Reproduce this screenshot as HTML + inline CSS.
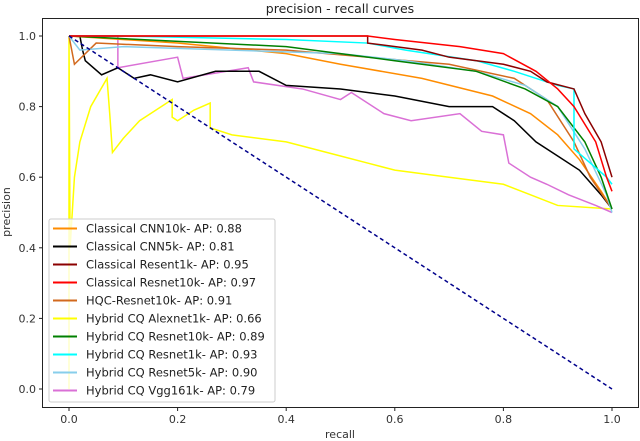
<!DOCTYPE html>
<html><head><meta charset="utf-8"><style>
body{margin:0;background:#fff;width:640px;height:441px;overflow:hidden}
svg{display:block;font-family:"DejaVu Sans","Liberation Sans",sans-serif}
</style></head><body>
<svg id="chart" width="640" height="441">
<text x="340" y="13" font-size="12.5" text-anchor="middle" fill="#222">precision - recall curves</text>
<rect x="42.5" y="18.5" width="596" height="389" fill="none" stroke="#222" stroke-width="1"/>
<g id="ticks"></g>
<g id="series"></g>
<text x="340" y="438" font-size="11" text-anchor="middle" fill="#333">recall</text>
<text transform="translate(10,212) rotate(-90)" font-size="11" text-anchor="middle" fill="#333">precision</text>
<g id="legend"></g>
</svg>
<script>
const xTicks=[0,0.2,0.4,0.6,0.8,1.0];
const yTicks=[0,0.2,0.4,0.6,0.8,1.0];
const names=["Classical CNN10k- AP: 0.88","Classical CNN5k- AP: 0.81","Classical Resent1k- AP: 0.95","Classical Resnet10k- AP: 0.97","HQC-Resnet10k- AP: 0.91","Hybrid CQ Alexnet1k- AP: 0.66","Hybrid CQ Resnet10k- AP: 0.89","Hybrid CQ Resnet1k- AP: 0.93","Hybrid CQ Resnet5k- AP: 0.90","Hybrid CQ Vgg161k- AP: 0.79"];
const colors=["#ff8c00","#000000","#8b0000","#ff0000","#d2691e","#ffff00","#008000","#00ffff","#87ceeb","#da70d6"];
const rCNN10=[0,0.2,0.4,0.5,0.65,0.78,0.85,0.9,0.94,0.98,1];
const pCNN10=[1,0.98,0.95,0.92,0.88,0.83,0.78,0.72,0.65,0.56,0.51];
const rCNN5=[0.02,0.025,0.03,0.06,0.09,0.12,0.15,0.2,0.27,0.35,0.4,0.5,0.6,0.7,0.78,0.82,0.86,0.9,0.94,0.98,1];
const pCNN5=[1,0.96,0.93,0.89,0.91,0.88,0.89,0.87,0.9,0.9,0.86,0.85,0.83,0.8,0.8,0.76,0.7,0.66,0.62,0.55,0.51];
const rRes1=[0,0.55,0.55,0.65,0.7,0.8,0.85,0.88,0.93,0.95,0.98,1];
const pRes1=[1,1,0.98,0.96,0.94,0.92,0.9,0.87,0.85,0.78,0.7,0.6];
const rRes10=[0,0.55,0.6,0.72,0.8,0.86,0.9,0.93,0.97,0.99,1];
const pRes10=[1,1,0.99,0.97,0.95,0.9,0.85,0.8,0.7,0.6,0.56];
const rHQC=[0,0.01,0.05,0.2,0.4,0.55,0.7,0.82,0.88,0.93,0.96,1];
const pHQC=[1,0.92,0.98,0.97,0.96,0.94,0.92,0.88,0.82,0.7,0.6,0.51];
const rAlex=[0,0,0.002,0.01,0.02,0.04,0.07,0.075,0.08,0.1,0.13,0.16,0.19,0.19,0.2,0.23,0.26,0.26,0.3,0.4,0.5,0.55,0.6,0.7,0.8,0.85,0.9,1];
const pAlex=[0,1,0.4,0.6,0.7,0.8,0.88,0.78,0.67,0.71,0.76,0.79,0.82,0.77,0.76,0.79,0.81,0.74,0.72,0.7,0.66,0.64,0.62,0.6,0.58,0.55,0.52,0.51];
const rHR10=[0,0.4,0.6,0.75,0.84,0.9,0.95,0.98,1];
const pHR10=[1,0.97,0.93,0.9,0.85,0.8,0.7,0.6,0.51];
const rHR1=[0,0.1,0.4,0.55,0.62,0.75,0.82,0.9,0.93,0.93,0.99,1];
const pHR1=[1,1,0.99,0.98,0.96,0.93,0.9,0.86,0.85,0.68,0.6,0.58];
const rHR5=[0,0.02,0.1,0.3,0.5,0.62,0.75,0.84,0.9,0.95,0.99,1];
const pHR5=[1,0.96,0.97,0.96,0.95,0.93,0.9,0.86,0.8,0.68,0.55,0.5];
const rVgg=[0,0.09,0.09,0.2,0.21,0.33,0.34,0.43,0.5,0.52,0.58,0.63,0.72,0.76,0.8,0.81,0.85,0.88,0.92,0.97,1];
const pVgg=[1,1,0.91,0.94,0.88,0.91,0.87,0.85,0.82,0.84,0.78,0.76,0.78,0.73,0.72,0.64,0.6,0.58,0.55,0.52,0.5];
const seriesR=[rCNN10,rCNN5,rRes1,rRes10,rHQC,rAlex,rHR10,rHR1,rHR5,rVgg];
const seriesP=[pCNN10,pCNN5,pRes1,pRes10,pHQC,pAlex,pHR10,pHR1,pHR5,pVgg];
const drawOrder=[5,9,1,0,4,8,6,7,2,3];
const NS="http://www.w3.org/2000/svg";
const X=v=>69+v*543, Y=v=>389-v*353;
const tg=document.getElementById('ticks');
xTicks.forEach(t=>{
 const l=document.createElementNS(NS,'line');
 l.setAttribute('x1',X(t));l.setAttribute('x2',X(t));l.setAttribute('y1',408);l.setAttribute('y2',411);l.setAttribute('stroke','#222');
 
 
 tg.appendChild(l);
 const s=document.createElementNS(NS,'text');
 s.setAttribute('x',X(t));s.setAttribute('y',423);s.setAttribute('font-size','11');s.setAttribute('text-anchor','middle');s.setAttribute('fill','#333');
 s.textContent=t.toFixed(1);
 
 
 tg.appendChild(s);
});
yTicks.forEach(t=>{
 const l=document.createElementNS(NS,'line');
 l.setAttribute('x1',39);l.setAttribute('x2',42);l.setAttribute('y1',Y(t));l.setAttribute('y2',Y(t));l.setAttribute('stroke','#222');
 
 
 tg.appendChild(l);
 const s=document.createElementNS(NS,'text');
 s.setAttribute('x',36);s.setAttribute('y',Y(t)+4);s.setAttribute('font-size','11');s.setAttribute('text-anchor','end');s.setAttribute('fill','#333');
 s.textContent=t.toFixed(1);
 
 
 tg.appendChild(s);
});
const sg=document.getElementById('series');
drawOrder.forEach(i=>{
 const pl=document.createElementNS(NS,'polyline');
 pl.setAttribute('points',seriesR[i].map((r,k)=>X(r)+','+Y(seriesP[i][k])).join(' '));
 pl.setAttribute('fill','none');pl.setAttribute('stroke',colors[i]);pl.setAttribute('stroke-width','1.5');
 
 
 sg.appendChild(pl);
});
const dg=document.createElementNS(NS,'line');
dg.setAttribute('x1',X(0));dg.setAttribute('y1',Y(1));dg.setAttribute('x2',X(1));dg.setAttribute('y2',Y(0));
dg.setAttribute('stroke','#00008b');dg.setAttribute('stroke-width','1.5');dg.setAttribute('stroke-dasharray','4,3');


sg.appendChild(dg);
const lg=document.getElementById('legend');
const box=document.createElementNS(NS,'rect');
box.setAttribute('x',49);box.setAttribute('y',219);box.setAttribute('width',226);box.setAttribute('height',183);box.setAttribute('rx',2);
box.setAttribute('fill','#fff');box.setAttribute('fill-opacity','0.8');box.setAttribute('stroke','#ccc');


lg.appendChild(box);
names.forEach((n,i)=>{
 const y=228.5+i*18;
 const l=document.createElementNS(NS,'line');
 l.setAttribute('x1',53);l.setAttribute('x2',77);l.setAttribute('y1',y);l.setAttribute('y2',y);l.setAttribute('stroke',colors[i]);l.setAttribute('stroke-width','2');
 
 
 lg.appendChild(l);
 const s=document.createElementNS(NS,'text');
 s.setAttribute('x',86);s.setAttribute('y',y+4);s.setAttribute('font-size','11.5');s.setAttribute('fill','#222');
 s.textContent=n;
 
 
 lg.appendChild(s);
});
</script>
</body></html>
